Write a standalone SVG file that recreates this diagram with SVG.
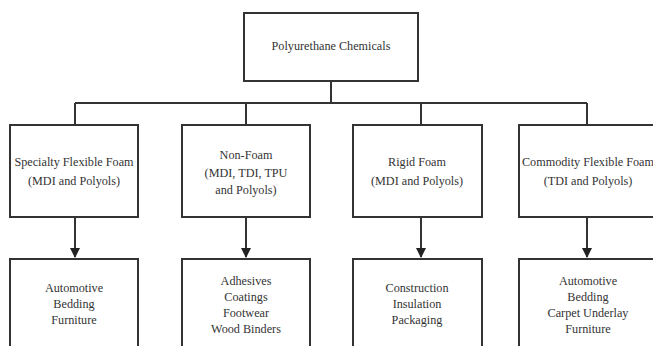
<svg xmlns="http://www.w3.org/2000/svg" width="653" height="346" viewBox="0 0 653 346">
<style>
.box{fill:#fff;stroke:#333;stroke-width:2}
.ln{fill:none;stroke:#333;stroke-width:2}
text{font-family:"Liberation Serif","Times New Roman",serif;font-size:12.2px;fill:#333;text-anchor:middle}
</style>
<defs>
<marker id="ah" viewBox="0 0 10 10" refX="9" refY="5" markerWidth="5" markerHeight="5" orient="auto" markerUnits="strokeWidth">
<path d="M0,0 L10,5 L0,10 z" fill="#222"/>
</marker>
</defs>
<rect width="653" height="346" fill="#fff"/>
<g id="connectors">
<path class="ln" d="M331,81 V103 M75,103 H587 M75,103 V125 M246,103 V125 M421,103 V125 M587,103 V125"/>
<path class="ln" d="M75,217 V257" marker-end="url(#ah)"/>
<path class="ln" d="M246,217 V257" marker-end="url(#ah)"/>
<path class="ln" d="M421,217 V257" marker-end="url(#ah)"/>
<path class="ln" d="M587,217 V257" marker-end="url(#ah)"/>
</g>
<g id="root">
<rect class="box" x="244" y="13" width="174" height="68"/>
<text x="331" y="50">Polyurethane Chemicals</text>
</g>
<g id="specialty">
<rect class="box" x="10" y="125" width="128" height="92"/>
<text x="74" y="166">Specialty Flexible Foam</text>
<text x="74" y="185">(MDI and Polyols)</text>
</g>
<g id="nonfoam">
<rect class="box" x="182" y="125" width="128" height="92"/>
<text x="246" y="159">Non-Foam</text>
<text x="246" y="177">(MDI, TDI, TPU</text>
<text x="246" y="194">and Polyols)</text>
</g>
<g id="rigid">
<rect class="box" x="353" y="125" width="129" height="92"/>
<text x="417" y="166">Rigid Foam</text>
<text x="417" y="185">(MDI and Polyols)</text>
</g>
<g id="commodity">
<rect class="box" x="519" y="125" width="140" height="92"/>
<text x="588" y="166">Commodity Flexible Foam</text>
<text x="588" y="185">(TDI and Polyols)</text>
</g>
<g id="specialty-uses">
<rect class="box" x="10" y="259" width="128" height="100"/>
<text x="74" y="292">Automotive</text>
<text x="74" y="308">Bedding</text>
<text x="74" y="324">Furniture</text>
</g>
<g id="nonfoam-uses">
<rect class="box" x="182" y="259" width="128" height="100"/>
<text x="246" y="285">Adhesives</text>
<text x="246" y="301">Coatings</text>
<text x="246" y="317">Footwear</text>
<text x="246" y="333">Wood Binders</text>
</g>
<g id="rigid-uses">
<rect class="box" x="353" y="259" width="129" height="100"/>
<text x="417" y="292">Construction</text>
<text x="417" y="308">Insulation</text>
<text x="417" y="324">Packaging</text>
</g>
<g id="commodity-uses">
<rect class="box" x="519" y="259" width="140" height="100"/>
<text x="588" y="285">Automotive</text>
<text x="588" y="301">Bedding</text>
<text x="588" y="317">Carpet Underlay</text>
<text x="588" y="333">Furniture</text>
</g>
</svg>
